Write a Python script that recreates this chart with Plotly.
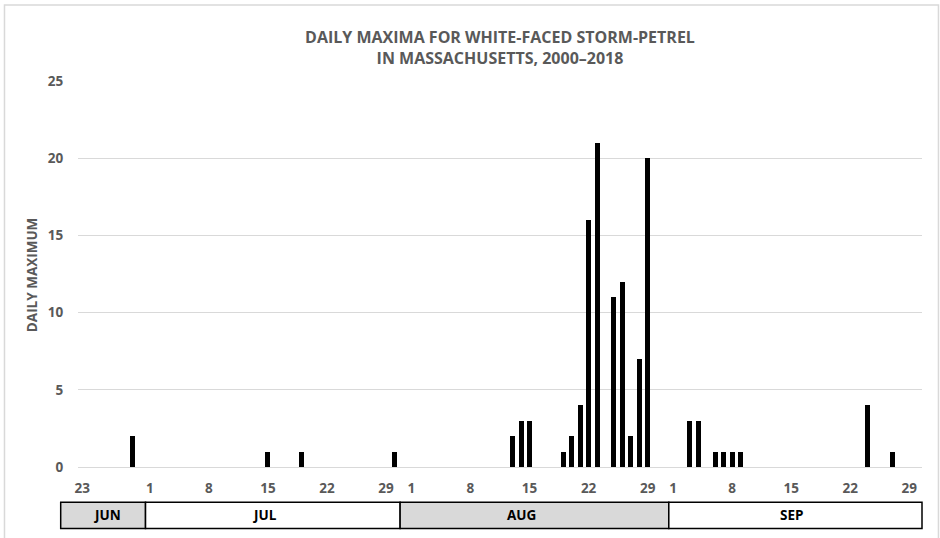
import plotly.graph_objects as go
from datetime import datetime, timedelta

YEAR = 2001
# Data: (month, day) of each bar and its daily maximum
obs_months = [6, 7, 7, 7,
              8, 8, 8, 8, 8, 8, 8, 8, 8, 8, 8, 8, 8,
              9, 9, 9, 9, 9, 9, 9, 9]
obs_days = [29, 15, 19, 30,
            13, 14, 15, 19, 20, 21, 22, 23, 25, 26, 27, 28, 29,
            3, 4, 6, 7, 8, 9, 24, 27]
daily_max = [2, 1, 1, 1,
             2, 3, 3, 1, 2, 4, 16, 21, 11, 12, 2, 7, 20,
             3, 3, 1, 1, 1, 1, 4, 1]

tick_months = [6, 7, 7, 7, 7, 7, 8, 8, 8, 8, 8, 9, 9, 9, 9, 9]
tick_days = [23, 1, 8, 15, 22, 29, 1, 8, 15, 22, 29, 1, 8, 15, 22, 29]

month_names = ["JUN", "JUL", "AUG", "SEP"]

def d(m, day, hour=0):
    return datetime(YEAR, m, day) + timedelta(hours=hour)

x = [d(m, dd) for m, dd in zip(obs_months, obs_days)]
tickvals = [d(m, dd) for m, dd in zip(tick_months, tick_days)]
ticktext = [str(v) for v in tick_days]

GRAY = "#595959"
FONT = "Open Sans"
DAY_MS = 86400000
TF = 13.5

fig = go.Figure()
fig.add_trace(go.Bar(x=x, y=daily_max, width=0.6 * DAY_MS,
                     marker=dict(color="black", line=dict(width=0)),
                     hoverinfo="x+y"))

x_start = d(6, 22, 12)
x_end = d(9, 30, 12)
span = (x_end - x_start).total_seconds()

def frac(t):
    return (t - x_start).total_seconds() / span

fig.update_layout(
    width=940, height=538,
    margin=dict(l=78, r=18, t=81, b=71),
    plot_bgcolor="white", paper_bgcolor="white",
    showlegend=False,
    bargap=0,
    font=dict(family=FONT, color=GRAY, size=12, weight="bold"),
    title=dict(text="DAILY MAXIMA FOR WHITE-FACED STORM-PETREL<br>IN MASSACHUSETTS, 2000–2018",
               x=0.5, xref="paper", xanchor="center",
               y=1 - 43 / 538, yanchor="top",
               font=dict(family=FONT, size=16, color=GRAY, weight="bold")),
    xaxis=dict(type="date", range=[x_start, x_end],
               tickvals=tickvals, ticktext=ticktext,
               showgrid=False, showline=False, zeroline=False,
               ticks="outside", ticklen=9, tickcolor="rgba(0,0,0,0)",
               tickfont=dict(family=FONT, size=TF, color=GRAY, weight="bold")),
    yaxis=dict(range=[0, 25], tickvals=[0, 5, 10, 15, 20, 25],
               showgrid=True, gridcolor="#d9d9d9", gridwidth=1,
               zeroline=True, zerolinecolor="#d9d9d9", zerolinewidth=1,
               showline=False, ticks="outside", ticklen=11,
               tickcolor="rgba(0,0,0,0)",
               tickfont=dict(family=FONT, size=TF, color=GRAY, weight="bold")),
)

# Y axis title
fig.add_annotation(text="DAILY MAXIMUM", xref="paper", yref="paper",
                   x=-0.0545, y=0.497, xanchor="center", yanchor="middle",
                   textangle=-90, showarrow=False,
                   font=dict(family=FONT, size=TF, color=GRAY, weight="bold"))

# Month band below the axis
band_top, band_bot = -0.0915, -0.1596
edges = [-0.0205, frac(d(6, 30, 12)), frac(d(7, 30, 16)), frac(d(8, 31, 12)), 1.0]
fills = ["#d9d9d9", "white", "#d9d9d9", "white"]
label_pos = [d(6, 26), d(7, 14, 17), d(8, 14), d(9, 15)]
for i, name in enumerate(month_names):
    fig.add_shape(type="rect", xref="paper", yref="paper",
                  x0=edges[i], x1=edges[i + 1], y0=band_bot, y1=band_top,
                  fillcolor=fills[i], line=dict(color="black", width=1.5),
                  layer="above")
    fig.add_annotation(text=name, xref="paper", yref="paper", x=frac(label_pos[i]),
                       y=(band_top + band_bot) / 2, xanchor="center", yanchor="middle",
                       showarrow=False,
                       font=dict(family=FONT, size=TF, color="black", weight="bold"))

# Chart area border
fig.add_shape(type="rect", xref="paper", yref="paper",
              x0=-0.0871, x1=1.0195, y0=-0.188, y1=1.197,
              line=dict(color="#d9d9d9", width=1.5), fillcolor="rgba(0,0,0,0)")

fig.write_html("out.html", config={"displayModeBar": False},
               post_script="document.body.style.margin='0px';")
